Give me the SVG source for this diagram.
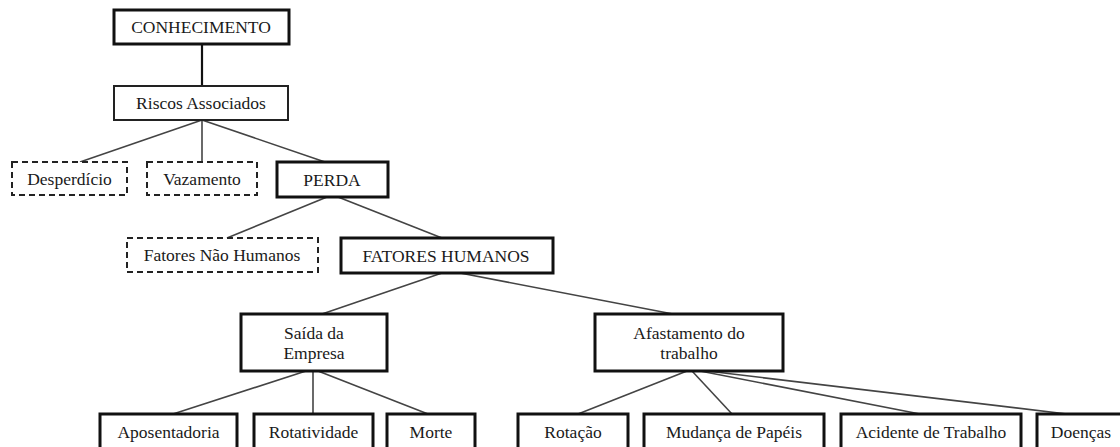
<svg xmlns="http://www.w3.org/2000/svg" width="1120" height="447" viewBox="0 0 1120 447" font-family="'Liberation Serif', 'Times New Roman', serif">
<style>
  text { font-family: 'Liberation Serif', 'Times New Roman', serif; font-size: 17.5px; fill: #1a1a1a; text-anchor: middle; dominant-baseline: central; }
  .thick { fill: #fff; stroke: #111; stroke-width: 3; }
  .thin { fill: #fff; stroke: #222; stroke-width: 2; }
  .dash { fill: #fff; stroke: #222; stroke-width: 2; stroke-dasharray: 6 4; }
  .conn line { stroke: #444; stroke-width: 1.6; }
</style>
<rect width="1120" height="447" fill="#fff"/>
<g id="connectors" class="conn">
  <line x1="202" y1="44" x2="202" y2="86" style="stroke:#111;stroke-width:2.2"/>
  <line x1="202" y1="120" x2="80" y2="162"/>
  <line x1="202" y1="120" x2="202" y2="162"/>
  <line x1="202" y1="120" x2="325" y2="162"/>
  <line x1="327" y1="197" x2="227" y2="238"/>
  <line x1="338" y1="197" x2="442" y2="238"/>
  <line x1="442" y1="273" x2="322" y2="314"/>
  <line x1="460" y1="273" x2="673" y2="314"/>
  <line x1="306" y1="371" x2="173" y2="414"/>
  <line x1="313" y1="371" x2="313" y2="414"/>
  <line x1="318" y1="371" x2="428" y2="414"/>
  <line x1="687" y1="371" x2="578" y2="414"/>
  <line x1="692" y1="371" x2="732" y2="414"/>
  <line x1="700" y1="371" x2="920" y2="414"/>
  <line x1="707" y1="371" x2="1067" y2="414"/>
</g>
<g id="n-conhecimento"><rect class="thick" x="114" y="10" width="175" height="34"/><text x="201" y="27">CONHECIMENTO</text></g>
<g id="n-riscos"><rect class="thin" x="114" y="86" width="174" height="34"/><text x="201" y="103">Riscos Associados</text></g>
<g id="n-desperdicio"><rect class="dash" x="12" y="162" width="115" height="33"/><text x="69.5" y="178.5">Desperdício</text></g>
<g id="n-vazamento"><rect class="dash" x="147" y="162" width="110" height="33"/><text x="202" y="178.5">Vazamento</text></g>
<g id="n-perda"><rect class="thick" x="277" y="162" width="111" height="35"/><text x="332" y="179.5">PERDA</text></g>
<g id="n-fnh"><rect class="dash" x="127" y="238" width="191" height="34"/><text x="222" y="255">Fatores Não Humanos</text></g>
<g id="n-fh"><rect class="thick" x="341" y="238" width="212" height="35"/><text x="446" y="255.5">FATORES HUMANOS</text></g>
<g id="n-saida"><rect class="thick" x="241" y="314" width="146" height="57"/><text x="314" y="333">Saída da</text><text x="314" y="353">Empresa</text></g>
<g id="n-afastamento"><rect class="thick" x="595" y="314" width="188" height="57"/><text x="689" y="333">Afastamento do</text><text x="689" y="353">trabalho</text></g>
<g id="n-aposentadoria"><rect class="thick" x="100" y="414" width="137" height="36"/><text x="168.5" y="432">Aposentadoria</text></g>
<g id="n-rotatividade"><rect class="thick" x="254" y="414" width="119" height="36"/><text x="313.5" y="432">Rotatividade</text></g>
<g id="n-morte"><rect class="thick" x="387" y="414" width="88" height="36"/><text x="431" y="432">Morte</text></g>
<g id="n-rotacao"><rect class="thick" x="518" y="414" width="110" height="36"/><text x="573" y="432">Rotação</text></g>
<g id="n-mudanca"><rect class="thick" x="644" y="414" width="180" height="36"/><text x="734" y="432">Mudança de Papéis</text></g>
<g id="n-acidente"><rect class="thick" x="841" y="414" width="180" height="36"/><text x="931" y="432">Acidente de Trabalho</text></g>
<g id="n-doencas"><rect class="thick" x="1037" y="414" width="88" height="36"/><text x="1081" y="432">Doenças</text></g>
</svg>
